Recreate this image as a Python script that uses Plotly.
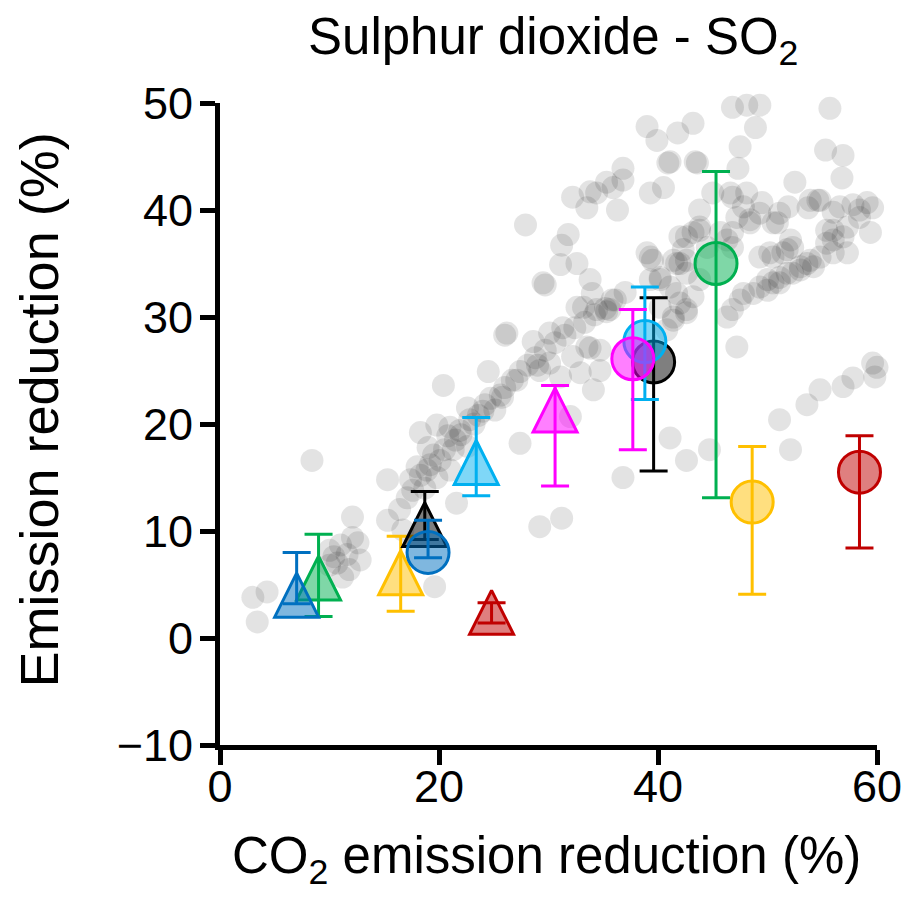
import plotly.graph_objects as go

# ---------------- data ----------------
# background cloud (CO2 reduction %, SO2 reduction %)
cloud_x = [3.0, 4.3, 3.4, 8.4, 12.1, 12.1, 10.0, 10.7, 12.8, 11.2, 10.0, 11.0, 11.6, 15.3, 15.3, 17.1, 18.0, 18.9,
           19.8, 18.3, 19.8, 21.0, 22.6, 21.6, 19.6, 17.6, 16.7, 21.3, 22.6, 16.4,
           17.4, 18.3, 18.7, 19.2, 20.1, 20.5, 21.5, 21.9, 22.8, 23.6, 24.2, 24.7, 25.1, 25.6, 26.0, 26.7, 27.4,
           28.1, 28.8, 29.7, 30.6, 31.5, 32.4, 33.3, 34.2, 35.2, 36.1, 37.0, 19.5, 21.0,
           26.0, 28.6, 24.5, 20.4, 27.1, 25.8, 27.4, 29.2, 31.2, 29.0,
           27.9, 31.8, 31.2, 31.1, 32.6, 33.8, 29.7, 34.0, 32.6, 35.8, 35.3, 32.2, 33.5, 34.4, 35.9, 36.3, 39.3,
           39.3, 31.3, 33.5, 34.7, 34.1, 32.2, 31.1, 30.1, 29.2, 33.8, 32.9, 32.0, 33.2, 35.6, 34.7, 30.1, 33.8,
           35.3, 36.8, 36.8, 39.0, 39.9, 41.8, 43.2, 41.1, 43.4, 40.5, 46.8, 48.1, 49.3, 48.9, 47.5, 47.3, 55.7,
           55.3, 56.9, 56.8, 52.5, 54.8, 53.7, 42.6, 43.8, 41.7, 42.3, 44.5,
           46.8, 48.1, 47.8, 49.5, 48.4, 51.1, 50.9, 51.9, 53.9, 54.6, 56.0, 57.8, 59.1, 59.6, 58.4, 56.0, 56.9,
           55.4, 59.4, 57.3, 50.2, 51.8, 53.9, 54.8, 53.0, 50.0, 51.1, 46.3, 46.8,
           39.5, 42.0, 42.6, 41.1, 40.2, 42.0, 43.2, 41.4, 40.8, 42.6, 46.8, 46.3, 47.5, 48.7, 50.0, 51.1, 52.3,
           53.6, 56.0, 49.3, 50.5, 47.2, 60.0, 59.8, 57.8, 56.9, 54.8, 53.6, 51.1, 52.1, 41.1, 42.6, 44.7, 36.8,
           42.0, 43.8, 41.4, 45.7, 46.8, 47.2, 48.4, 49.3, 50.5, 52.1, 51.4, 52.3, 54.2, 56.0, 57.3, 58.4, 56.6,
           55.4, 47.8, 49.3, 50.5, 51.8, 53.0, 59.6, 42.6, 43.8, 41.7, 42.6, 40.2, 41.4, 39.3, 43.2, 43.8, 45.0,
           46.6, 29.5, 34.4, 39.0, 40.2, 26.2, 43.6, 40.9,
           10.4, 11.8, 12.6, 19.0, 20.8, 22.0, 23.2, 24.0]
cloud_y = [3.8, 4.3, 1.5, 16.6, 11.3, 9.4, 8.2, 7.0, 7.3, 5.7, 6.8, 8.7, 7.8, 14.8, 11.0, 13.1, 16.0, 15.7,
           15.0, 19.2, 19.9, 19.7, 21.5, 12.6, 4.8, 13.8, 10.1, 17.6, 17.9, 12.0,
           14.8, 15.2, 14.0, 16.2, 16.6, 17.6, 18.5, 19.4, 20.4, 20.8, 21.8, 22.4, 21.3, 22.7, 23.4, 24.1, 24.9,
           25.5, 26.2, 26.9, 27.6, 28.3, 29.0, 29.5, 30.2, 30.8, 31.6, 32.3, 17.1, 15.7,
           28.3, 27.7, 24.9, 23.6, 24.1, 22.5, 18.2, 10.4, 11.2, 25.5,
           38.6, 37.7, 36.7, 34.9, 35.0, 33.5, 33.0, 32.2, 30.9, 31.6, 30.5, 41.2, 40.2, 41.6, 42.1, 40.0, 41.6,
           35.6, 29.0, 27.2, 25.0, 23.2, 26.3, 24.4, 25.7, 25.0, 27.1, 24.8, 20.7, 30.9, 30.7, 26.9, 28.5, 41.7,
           42.6, 43.9, 42.8, 47.8, 46.5, 47.2, 48.1, 44.5, 44.5, 42.1, 49.6, 49.8, 49.8, 47.7, 45.9, 43.9, 49.5,
           45.6, 45.1, 43.0, 42.6, 40.9, 40.2, 37.5, 38.1, 35.0, 36.3, 36.5,
           41.2, 41.6, 40.3, 40.7, 38.8, 39.7, 38.8, 40.3, 40.9, 40.9, 39.8, 40.5, 40.7, 40.2, 39.3, 38.1, 37.5,
           36.9, 37.9, 36.0, 36.0, 36.3, 35.3, 35.6, 34.4, 33.5, 33.7, 37.2, 36.5,
           35.3, 35.0, 34.1, 32.8, 33.5, 31.3, 31.9, 30.0, 28.8, 30.7, 30.7, 30.0, 31.6, 32.2, 32.5, 33.2, 34.1,
           35.0, 36.0, 35.6, 35.6, 27.2, 25.3, 24.4, 24.3, 23.5, 23.2, 21.8, 20.4, 17.6, 18.7, 16.6, 17.6, 15.0,
           37.5, 38.4, 35.3, 37.9, 37.9, 39.3, 39.1, 39.7, 38.8, 37.2, 36.0, 36.5, 34.7, 37.2, 38.4, 40.0, 40.3,
           38.1, 32.2, 32.8, 33.2, 34.1, 34.7, 25.7, 35.3, 33.5, 32.2, 30.4, 30.9, 29.7, 33.5, 37.9, 40.0, 41.6,
           41.6, 33.2, 30.7, 36.0, 33.7, 28.5, 44.4, 44.4,
           7.6, 6.4, 8.9, 17.8, 18.9, 19.0, 20.0, 21.2]

# highlighted scenarios (drawn in this order)
sc_shape = ["tri", "tri", "tri", "tri", "circ", "tri", "tri", "tri",
            "circ", "circ", "circ", "circ", "circ", "circ"]
sc_color = ["#00b050", "#0070c0", "#ffc000", "#000000", "#0070c0", "#00b0f0", "#ff00ff", "#c00000",
            "#000000", "#00b0f0", "#ff00ff", "#00b050", "#ffc000", "#c00000"]
sc_x = [9.0, 7.0, 16.5, 18.7, 19.0, 23.4, 30.6, 24.8, 39.6, 38.8, 37.7, 45.3, 48.6, 58.4]
sc_y = [5.6, 4.0, 6.1, 10.6, 8.0, 16.4, 21.3, 2.4, 25.8, 27.7, 26.1, 35.0, 12.7, 15.5]
sc_hi = [9.7, 8.0, 9.5, 13.7, 11.0, 20.6, 23.6, 3.3, 31.8, 32.8, 30.7, 43.6, 17.9, 18.9]
sc_lo = [2.0, 3.2, 2.5, 9.2, 7.5, 13.3, 14.2, 1.4, 15.6, 22.3, 17.6, 13.1, 4.1, 8.4]

x_ticks = [0, 20, 40, 60]
y_ticks = [-10, 0, 10, 20, 30, 40, 50]
y_ticktext = ["\u221210", "0", "10", "20", "30", "40", "50"]

# ---------------- layout constants ----------------
W, H = 915, 913
ML, MR, MT, MB = 220, 38, 103, 168
XR = [0, 60]
YR = [-10, 50]
FONT = "Liberation Sans, Arial, Helvetica, sans-serif"
TRI_SIZE = 44
CIRC_SIZE = 42
px_per_y = (H - MT - MB) / (YR[1] - YR[0])


def rgba(hexc, a):
    h = hexc.lstrip("#")
    r, g, b = int(h[0:2], 16), int(h[2:4], 16), int(h[4:6], 16)
    return f"rgba({r},{g},{b},{a})"


fig = go.Figure()

fig.add_trace(go.Scatter(
    x=cloud_x, y=cloud_y, mode="markers",
    marker=dict(size=23, color="rgba(0,0,0,0.11)", line=dict(width=0)),
    cliponaxis=False, showlegend=False, hoverinfo="skip"))

for i in range(len(sc_x)):
    col = sc_color[i]
    if sc_shape[i] == "tri":
        # arrow-up symbol has its apex at the data point; shift so it is centred
        yy = sc_y[i] + (TRI_SIZE / 2) / px_per_y
        sym = "arrow-up"
        size = TRI_SIZE
    else:
        yy = sc_y[i]
        sym = "circle"
        size = CIRC_SIZE
    fig.add_trace(go.Scatter(
        x=[sc_x[i]], y=[yy], mode="markers",
        marker=dict(symbol=sym, size=size, color=rgba(col, 0.5),
                    line=dict(color=col, width=3)),
        cliponaxis=False, showlegend=False))
    fig.add_trace(go.Scatter(
        x=[sc_x[i]], y=[sc_y[i]], mode="markers",
        marker=dict(size=1, color="rgba(0,0,0,0)"),
        error_y=dict(type="data", symmetric=False,
                     array=[sc_hi[i] - sc_y[i]], arrayminus=[sc_y[i] - sc_lo[i]],
                     color=col, thickness=3, width=14),
        cliponaxis=False, showlegend=False))

axis_common = dict(showline=True, linewidth=5, linecolor="black", ticks="outside",
                   ticklen=15, tickwidth=5, tickcolor="black", showgrid=False,
                   zeroline=False, tickfont=dict(family=FONT, size=45, color="black"))

fig.update_layout(
    width=W, height=H,
    margin=dict(l=ML, r=MR, t=MT, b=MB, pad=0),
    paper_bgcolor="white", plot_bgcolor="white",
    font=dict(family=FONT, color="black"),
    xaxis=dict(range=XR, tickvals=x_ticks, ticklabelstandoff=-17, **axis_common),
    yaxis=dict(range=YR, tickvals=y_ticks, ticktext=y_ticktext, ticklabelstandoff=-2,
               **axis_common),
    annotations=[
        dict(text="Sulphur dioxide - SO<sub>2</sub>", xref="paper", yref="paper",
             x=0.507, y=1.098, xanchor="center", yanchor="middle", showarrow=False,
             font=dict(family=FONT, size=51, color="black")),
        dict(text="CO<sub>2</sub> emission reduction (%)", xref="paper", yref="paper",
             x=0.497, y=-0.178, xanchor="center", yanchor="middle", showarrow=False,
             font=dict(family=FONT, size=51, color="black")),
        dict(text="Emission reduction (%)", xref="paper", yref="paper",
             x=-0.276, y=0.522, xanchor="center", yanchor="middle", showarrow=False,
             textangle=-90, font=dict(family=FONT, size=54, color="black")),
    ],
)

fig.write_html("out.html")
